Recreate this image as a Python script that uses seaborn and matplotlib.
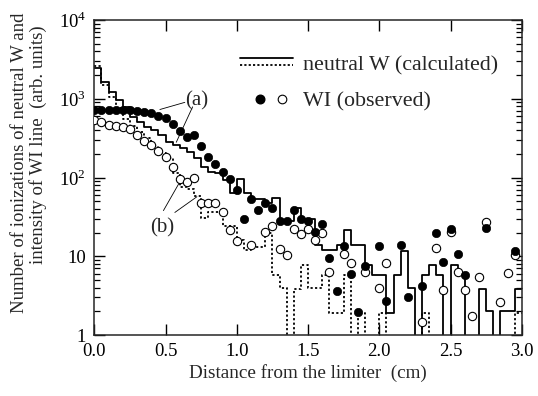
import numpy as np
import pandas as pd
import matplotlib
matplotlib.use("Agg")
import matplotlib.pyplot as plt
import seaborn as sns
from matplotlib.lines import Line2D
from matplotlib.legend_handler import HandlerBase
from matplotlib.ticker import FixedLocator, FixedFormatter, LogLocator, NullFormatter

# left edges of the 0.05 cm bins / positions of the observed points (cm)
dist = np.round(np.arange(0, 3.0, 0.05), 2)

# neutral W (calculated), case (a) - solid histogram, 0 = no count
calc_a = [2450, 1650, 1220, 960, 776, 590, 500, 440, 400, 350,
          285, 259, 235, 213, 175, 137, 119, 113, 93, 63,
          95, 63, 54, 54, 47, 55, 28, 28, 41.6, 30,
          30, 13.9, 12, 12, 13.9, 21.6, 13.9, 13.9, 7.7, 5.8,
          5.8, 1.9, 5.7, 11.7, 3.9, 0, 5.7, 7.7, 5.7, 0,
          7.7, 5.7, 0, 0, 3.8, 2.0, 0, 2.0, 2.0, 3.8]

# neutral W (calculated), case (b) - dotted histogram
calc_b = [2600, 1500, 1050, 760, 560, 450, 380, 320, 250, 202,
          175, 113, 76, 72, 59, 31, 37, 37, 24, 24,
          16, 12, 13, 13, 20, 5.8, 4.0, 0, 3.8, 7.7,
          3.9, 3.9, 5.8, 1.9, 1.9, 5.8, 0, 1.9, 0, 0,
          1.9, 0, 0, 0, 0, 0, 1.9, 0, 0, 0,
          0, 0, 0, 0, 0, 0, 0, 0, 0, 1.9]

nan = np.nan
# WI (observed), case (a) - filled circles
obs_a = [720, 720, 720, 720, 720, 720, 705, 685, 654, 609,
         565, 480, 389, 324, 347, 252, 184, 148, 116, 95,
         69, 30, 53, 39, 48, 41, 28, 28, 39, 30,
         28, 20.5, 25.7, 9.4, 3.6, 13.6, 5.9, 1.94, 7.5, nan,
         13.5, 2.7, nan, 14, 3.06, nan, 4.2, nan, 19.9, 8.4,
         22, 10.6, 5.8, nan, nan, 22.6, nan, nan, nan, 11.8]

# WI (observed), case (b) - open circles
obs_b = [537, 505, 464, 451, 437, 418, 347, 295, 259, 220,
         183, 137, 95, 87, 98, 48, 47, 47, 37, 21.6,
         15.6, nan, 14.1, nan, 20.5, 24.3, 12.3, 10.5, 22.2, 19.2,
         22.4, 16.1, 20, 6.25, nan, 10.7, 8.1, nan, 6.25, nan,
         3.95, 8.3, nan, nan, nan, nan, 1.45, nan, 12.6, 3.7,
         20.2, 6.3, 3.7, 1.74, 5.5, 27.5, nan, 2.6, 6.1, 10.4]


def step_frame(values):
    # close the last bin at 3.0 cm; empty bins are pushed below the axis
    x = np.append(dist, 3.0)
    y = np.append(values, values[-1]).astype(float)
    y = np.where(y > 0, y, 0.1)
    return pd.DataFrame({"x": x, "y": y})


class StackedLines(HandlerBase):
    def create_artists(self, legend, orig_handle, xdescent, ydescent,
                       width, height, fontsize, trans):
        top = Line2D([-xdescent, width - xdescent], [height * 0.8] * 2,
                     color="black", lw=1.3, transform=trans)
        bot = Line2D([-xdescent, width - xdescent], [height * 0.3] * 2,
                     color="black", lw=1.3, ls=(0, (1.2, 1.2)), transform=trans)
        return [top, bot]


class DotPair(HandlerBase):
    def create_artists(self, legend, orig_handle, xdescent, ydescent,
                       width, height, fontsize, trans):
        yc = height / 2 - ydescent
        d1 = Line2D([width * 0.38 - xdescent], [yc], marker="o", ls="none",
                    ms=6.2, mfc="black", mec="black", transform=trans)
        d2 = Line2D([width * 0.79 - xdescent], [yc], marker="o", ls="none",
                    ms=6.2, mfc="white", mec="black", mew=0.8, transform=trans)
        return [d1, d2]


def main():
    sns.set_style("ticks")
    plt.rcParams["font.family"] = ["Liberation Serif", "DejaVu Serif"]
    plt.rcParams["mathtext.fontset"] = "custom"
    plt.rcParams["mathtext.rm"] = "Liberation Serif"
    plt.rcParams["axes.linewidth"] = 1.1

    fig = plt.figure(figsize=(5.38, 3.96), dpi=100)
    ax = fig.add_axes([0.1753, 0.154, 0.7947, 0.7955])

    sns.lineplot(data=step_frame(calc_a), x="x", y="y", drawstyle="steps-post",
                 estimator=None, sort=False, color="black", lw=1.3, ax=ax, legend=False)
    sns.lineplot(data=step_frame(calc_b), x="x", y="y", drawstyle="steps-post",
                 estimator=None, sort=False, color="black", lw=1.3,
                 linestyle=(0, (1.2, 1.3)), ax=ax, legend=False)

    obs = pd.DataFrame({"x": dist, "a": obs_a, "b": obs_b})
    sns.scatterplot(data=obs, x="x", y="b", marker="o", s=36, facecolor="white",
                    edgecolor="black", linewidth=0.8, ax=ax, zorder=3)
    sns.scatterplot(data=obs, x="x", y="a", marker="o", s=36, color="black",
                    edgecolor="black", linewidth=0.5, ax=ax, zorder=4)

    ax.set_yscale("log")
    ax.set_xlim(0, 3.0)
    ax.set_ylim(1, 1e4)

    ax.xaxis.set_major_locator(FixedLocator([0, 0.5, 1.0, 1.5, 2.0, 2.5, 3.0]))
    ax.xaxis.set_major_formatter(FixedFormatter(["0.0", "0.5", "1.0", "1.5", "2.0", "2.5", "3.0"]))
    ax.yaxis.set_major_locator(FixedLocator([1, 10, 100, 1000, 10000]))
    ax.yaxis.set_major_formatter(FixedFormatter(["1", "10", "10$^2$", "10$^3$", "10$^4$"]))
    ax.yaxis.set_minor_locator(LogLocator(base=10, subs=np.arange(2, 10)))
    ax.yaxis.set_minor_formatter(NullFormatter())

    ax.tick_params(which="both", direction="in", top=True, right=True,
                   colors="black", labelsize=13.5)
    ax.tick_params(which="major", length=8, width=1.0, pad=6)
    ax.tick_params(which="minor", length=4.5, width=0.9)

    ax.set_xlabel("Distance from the limiter  (cm)", fontsize=13.8, labelpad=3)
    ax.set_ylabel("")
    fig.text(0.036, 0.59, "Number of ionizations of neutral W and",
             rotation=90, ha="center", va="center", fontsize=13.5)
    fig.text(0.070, 0.635, "intensity of WI line  (arb. units)",
             rotation=90, ha="center", va="center", fontsize=13.5)

    # leader lines for the (a) and (b) labels
    ax.text(0.72, 950, "(a)", fontsize=15, ha="center", va="center")
    ax.plot([0.635, 0.46], [900, 730], color="black", lw=0.6)
    ax.plot([0.69, 0.575], [790, 280], color="black", lw=0.6)
    ax.text(0.475, 23, "(b)", fontsize=15, ha="center", va="center")
    ax.plot([0.485, 0.60], [38, 88], color="black", lw=0.6)
    ax.plot([0.565, 0.72], [36, 57], color="black", lw=0.6)

    h_lines = Line2D([], [])
    h_dots = Line2D([], [])
    ax.legend([h_lines, h_dots], ["neutral W (calculated)", "WI (observed)"],
              handler_map={h_lines: StackedLines(), h_dots: DotPair()},
              loc="upper left", bbox_to_anchor=(0.341, 0.89), frameon=False,
              fontsize=15.8, handlelength=2.4, handletextpad=0.45,
              labelspacing=0.75, borderpad=0, borderaxespad=0)

    fig.savefig("out.png", dpi=100)
    plt.close(fig)


if __name__ == "__main__":
    main()
